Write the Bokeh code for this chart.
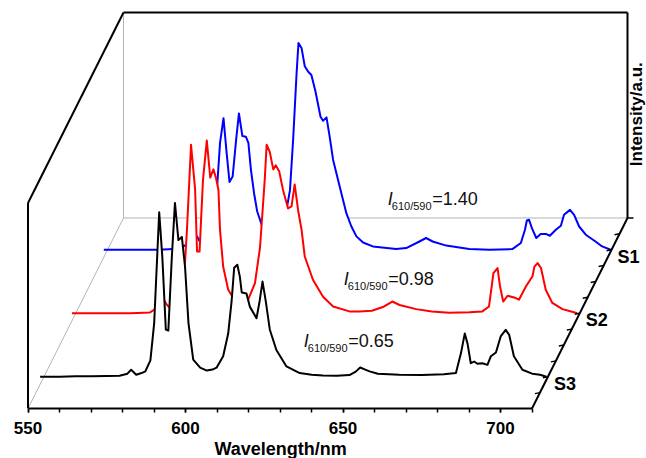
import numpy as np
from bokeh.plotting import figure
from bokeh.models import Range1d, SingleIntervalTicker, Label, Title
from bokeh.embed import file_html
from bokeh.resources import INLINE

# ---------------- data ----------------
series_names = ["S1", "S2", "S3"]
series_colors = ["#0000ff", "#ff0000", "#000000"]
ratio_texts = ["=1.40", "=0.98", "=0.65"]

wl_s1 = [548.8, 560, 566, 571, 574.1, 576.5, 578.4, 579.6, 581, 582.5, 583.8, 584.7, 585.7,
         586.8, 587.8, 588.7, 589.7, 590.8, 591.7, 592.8, 593.9, 594.7, 595.5, 596.5, 597.5,
         599.1, 601, 603, 605, 606.8, 607.9, 608.9, 610.0, 610.6, 611.6, 612.6, 613.7, 614.7,
         616.0, 617.6, 618.4, 619.5, 620.5, 621.6, 623.7, 625.8, 627.4, 629.0, 631.1, 634.2,
         641.6, 644.8, 649.0, 651.1, 653.2, 657.5, 664.8, 671.2, 678.5, 681.2, 682.5, 683.1,
         683.8, 684.7, 686.1, 687.5, 689.3, 690.4, 692.3, 693.9, 694.9, 696.8, 698.1, 699.7,
         701.8, 704.9, 707.0, 709.7]
int_s1 = [0.0, 0.0, 0.0, 0.003, 0.016, 0.04, 0.065, 0.03, 0.03, 0.06, 0.15, 0.29, 0.52,
          0.64, 0.47, 0.33, 0.356, 0.534, 0.663, 0.553, 0.55, 0.52, 0.39, 0.275, 0.186,
          0.113, 0.08, 0.075, 0.1, 0.194, 0.29, 0.534, 0.858, 1.006, 0.98, 0.893, 0.866, 0.85,
          0.77, 0.647, 0.628, 0.644, 0.55, 0.437, 0.307, 0.178, 0.113, 0.065, 0.035, 0.016,
          0.003, 0.008, 0.04, 0.057, 0.04, 0.02, 0.003, 0.0, 0.003, 0.033, 0.097, 0.142,
          0.146, 0.105, 0.057, 0.076, 0.076, 0.068, 0.097, 0.117, 0.17, 0.194, 0.17, 0.113,
          0.073, 0.04, 0.016, 0.0]

wl_s2 = [548.8, 560, 567.3, 573.6, 574.9, 576.5, 577.9, 579, 580, 581.5, 583, 584.7, 585.3,
         586.6, 587.9, 588.5, 589.3, 590.4, 591.6, 592.7, 593.7, 594.5, 595.3, 595.8, 596.8,
         598.4, 600.0, 602.5, 604.8, 606.9, 608.5, 610.0, 610.6, 611.6, 612.7, 613.5, 614.6,
         615.8, 617.4, 618.5, 619.5, 620.6, 621.7, 622.7, 625.3, 628.5, 631.7, 636.9, 640,
         644, 647.5, 650.5, 652.8, 658.1, 663, 668.6, 675, 679.1, 681.2, 682.6, 683.9, 684.7,
         685.7, 687.1, 689.7, 690.7, 692.9, 695.0, 695.6, 696.6, 697.7, 699.2, 701.3, 704.5,
         707, 709.2]
int_s2 = [0.0, 0.0, 0.0, 0.004, 0.017, 0.045, 0.066, 0.04, 0.025, 0.04, 0.1, 0.25, 0.405,
          0.82, 0.6, 0.3, 0.3, 0.65, 0.84, 0.66, 0.7, 0.66, 0.6, 0.405, 0.227,
          0.114, 0.074, 0.065, 0.069, 0.147, 0.32, 0.65, 0.82, 0.785, 0.7, 0.72, 0.69,
          0.6, 0.51, 0.52, 0.627, 0.5, 0.405, 0.276, 0.163, 0.08, 0.033, 0.009, 0.008,
          0.012, 0.03, 0.057, 0.04, 0.02, 0.008, 0.002, 0.005, 0.009, 0.033, 0.195, 0.22, 0.13,
          0.057, 0.085, 0.074, 0.066, 0.13, 0.18, 0.227, 0.244, 0.22, 0.114, 0.05, 0.02,
          0.01, 0.0]

wl_s3 = [548.8, 555, 560, 565, 570, 574, 576.5, 577.7, 579.3, 581, 582.2, 583.8, 585.0,
         586.0, 586.6, 587.6, 588.7, 589.5, 590.6, 591.6, 592.7, 593.8, 594.8, 595.9, 597.4,
         599.6, 601.7, 603.5, 604.8, 606.9, 608.5, 609.6, 610.4, 611.4, 612.2, 612.8, 614.3,
         615.4, 617.5, 618.5, 619.4, 620.4, 621.7, 623.8, 627.0, 631.2, 635, 638.6, 643, 647,
         649, 650.4, 652, 653.4, 656, 662.8, 670, 677, 680.8, 682.4, 683.6, 684.5, 685.5,
         686.6, 687.6, 689.2, 690.8, 691.9, 693.5, 695.0, 696.6, 697.7, 699.2, 701.9, 705.0,
         707.5, 709.5]
int_s3 = [0.0, 0.0, 0.003, 0.002, 0.004, 0.005, 0.015, 0.034, 0.01, 0.018, 0.026, 0.08, 0.26,
          0.6, 0.8, 0.58, 0.23, 0.225, 0.58, 0.846, 0.665, 0.68, 0.535, 0.26, 0.083,
          0.044, 0.03, 0.035, 0.044, 0.1, 0.21, 0.37, 0.53, 0.545, 0.487, 0.41, 0.405,
          0.34, 0.285, 0.37, 0.463, 0.37, 0.23, 0.13, 0.05, 0.018, 0.01, 0.006, 0.005, 0.008,
          0.025, 0.045, 0.035, 0.026, 0.015, 0.01, 0.008, 0.012, 0.018, 0.115, 0.21, 0.16, 0.066,
          0.074, 0.063, 0.066, 0.058, 0.1, 0.118, 0.196, 0.228, 0.204, 0.1, 0.034, 0.015,
          0.01, 0.0]

# ---------------- geometry of the pseudo-3D box ----------------
PX_PER_NM = 3.15        # horizontal scale of the front plane
PX_PER_UNIT = 206.0     # height of the front plane in px (intensity 0..1)
X_FRONT_PX = 27.5       # pixel of 550 nm on the front plane
Y_BASE_PX = 409.0       # pixel of the front baseline
WL_MIN, WL_MAX = 550, 710
DEPTH_DX = 95.5 / PX_PER_NM      # nm shift from front to back plane
DEPTH_DY = 191.0 / PX_PER_UNIT   # intensity shift from front to back plane
N_DEPTH = 12
depth_pos = [10 / 12, 6 / 12, 2 / 12]   # S1, S2, S3 (fraction of depth from the front)

def X(px):
    return WL_MIN + (px - X_FRONT_PX) / PX_PER_NM

def Y(py):
    return (Y_BASE_PX - py) / PX_PER_UNIT

W, H = 646, 458
p = figure(width=W, height=H, output_backend="svg", toolbar_location=None,
           x_range=Range1d(X(0), X(W)), y_range=Range1d(0, Y(0)),
           y_axis_location=None, title=None,
           min_border_left=0, min_border_right=0, min_border_top=0,
           min_border_bottom=H - int(Y_BASE_PX))
p.outline_line_color = None
p.xgrid.visible = False
p.ygrid.visible = False
p.background_fill_color = "white"
p.border_fill_color = "white"

FONT = "Liberation Sans"
ax = p.xaxis[0]
ax.bounds = (WL_MIN, WL_MAX)
ax.ticker = SingleIntervalTicker(interval=50, num_minor_ticks=5)
ax.axis_line_width = 2
ax.axis_line_color = "black"
ax.major_tick_in = 0
ax.major_tick_out = 4
ax.minor_tick_in = 0
ax.minor_tick_out = 4
ax.major_tick_line_width = 1.5
ax.minor_tick_line_width = 1.5
ax.major_label_text_font = FONT
ax.major_label_text_font_style = "bold"
ax.major_label_text_font_size = "17px"
ax.major_label_text_color = "black"
ax.major_label_standoff = 9

# x-axis title, centred under the front axis (550..710)
p.add_layout(Title(text="Wavelength/nm", align="left", offset=214, standoff=0,
                   text_font=FONT, text_font_style="bold", text_font_size="18px",
                   text_color="black"), "below")

GRAY = "#b4b4b4"
bx0, bx1 = WL_MIN + DEPTH_DX, WL_MAX + DEPTH_DX
# back-plane gray lines
p.line([bx0, bx0], [DEPTH_DY, 1 + DEPTH_DY], line_color=GRAY, line_width=1)
p.line([bx0, bx1], [DEPTH_DY, DEPTH_DY], line_color=GRAY, line_width=1)
p.line([bx0, WL_MIN], [DEPTH_DY, 0], line_color=GRAY, line_width=1)

# curves from back to front, each hiding what lies behind it
all_wl = [wl_s1, wl_s2, wl_s3]
all_int = [int_s1, int_s2, int_s3]
for wl, inten, f, col in zip(all_wl, all_int, depth_pos, series_colors):
    xs = np.array(wl, dtype=float) + f * DEPTH_DX
    ys = np.array(inten, dtype=float) + f * DEPTH_DY
    px_ = list(xs) + [xs[-1], xs[0]]
    py_ = list(ys) + [f * DEPTH_DY, f * DEPTH_DY]
    p.patch(px_, py_, fill_color="white", line_color=None)
    p.line(xs, ys, line_color=col, line_width=2, line_join="round")

# black box lines
BW = 2
p.line([WL_MIN, WL_MIN], [0, 1], line_color="black", line_width=BW)
p.line([WL_MIN, bx0], [1, 1 + DEPTH_DY], line_color="black", line_width=BW)
p.line([bx0, bx1], [1 + DEPTH_DY, 1 + DEPTH_DY], line_color="black", line_width=BW)
p.line([bx1, bx1], [1 + DEPTH_DY, DEPTH_DY], line_color="black", line_width=BW)
p.line([bx1, WL_MAX], [DEPTH_DY, 0], line_color="black", line_width=BW)
p.segment([bx1], [DEPTH_DY], [bx1 + 6 / PX_PER_NM], [DEPTH_DY], line_color="black", line_width=1.5)

# depth-axis ticks
k = np.arange(1, N_DEPTH)
t = 1 - k / N_DEPTH
tx = WL_MAX + t * DEPTH_DX
ty = t * DEPTH_DY
p.segment(tx, ty, tx - 5 / PX_PER_NM, ty - 1 / PX_PER_UNIT, line_color="black", line_width=1.5)

# series labels on the depth axis
for name, f in zip(series_names, depth_pos):
    p.add_layout(Label(x=WL_MAX + f * DEPTH_DX + 6 / PX_PER_NM, y=f * DEPTH_DY - 7 / PX_PER_UNIT,
                       text=name, text_font=FONT, text_font_style="bold", text_font_size="18px",
                       text_align="left", text_baseline="middle", text_color="black"))

# ratio annotations  I_610/590 = ...
ratio_anchor_px = [(387.3, 199.3), (343.3, 279.0), (303.3, 341.7)]
for (ax_px, ay_px), rt in zip(ratio_anchor_px, ratio_texts):
    p.add_layout(Label(x=X(ax_px), y=Y(ay_px), text="I", text_font=FONT, text_font_style="italic",
                       text_font_size="18px", text_baseline="alphabetic", text_color="#111111"))
    p.add_layout(Label(x=X(ax_px + 4.0), y=Y(ay_px + 7.0), text="610/590", text_font=FONT,
                       text_font_size="11px", text_baseline="alphabetic", text_color="#111111"))
    p.add_layout(Label(x=X(ax_px + 44.4), y=Y(ay_px), text=rt, text_font=FONT,
                       text_font_size="18px", text_baseline="alphabetic", text_color="#111111"))

# z-axis title, rotated, right of the back plane
p.add_layout(Label(x=X(635.5), y=Y(114), text="Intensity/a.u.", text_font=FONT,
                   text_font_style="bold", text_font_size="17px", text_align="center",
                   text_baseline="middle", angle=np.pi / 2, text_color="black"))

open("out.html", "w").write(file_html(p, INLINE))
